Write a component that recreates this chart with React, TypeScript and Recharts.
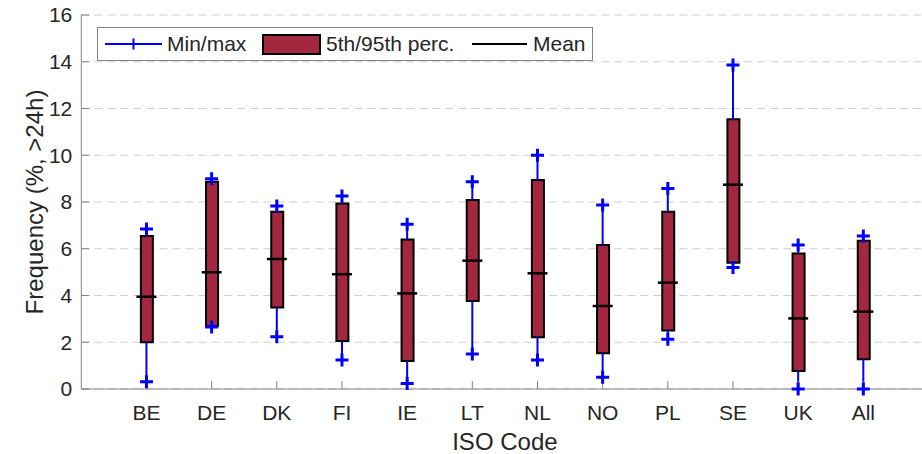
import { ComposedChart, Bar, Scatter, ErrorBar, XAxis, YAxis, CartesianGrid, Legend } from 'recharts'

const codes = ['BE', 'DE', 'DK', 'FI', 'IE', 'LT', 'NL', 'NO', 'PL', 'SE', 'UK', 'All']
const minVals = [0.31, 2.65, 2.24, 1.24, 0.24, 1.5, 1.24, 0.5, 2.13, 5.2, 0, 0]
const p5Vals = [2.0, 2.7, 3.49, 2.05, 1.2, 3.76, 2.21, 1.53, 2.5, 5.4, 0.77, 1.27]
const meanVals = [3.95, 4.99, 5.56, 4.91, 4.09, 5.49, 4.95, 3.55, 4.55, 8.74, 3.02, 3.31]
const p95Vals = [6.55, 8.87, 7.58, 7.94, 6.4, 8.09, 8.94, 6.16, 7.58, 11.54, 5.8, 6.34]
const maxVals = [6.84, 9.0, 7.83, 8.26, 7.05, 8.87, 10.0, 7.87, 8.58, 13.86, 6.16, 6.55]
const yTicks = [0, 2, 4, 6, 8, 10, 12, 14, 16]

const FONT = '"Liberation Sans", Arial, Helvetica, sans-serif'
const BLUE = '#0000ff'
const BOX = '#a3283f'
const TEXT = '#262626'
const AXIS = '#858585'

const data = codes.map((code, i) => ({
  x: i + 1,
  code,
  min: minVals[i],
  max: maxVals[i],
  mean: meanVals[i],
  p5: p5Vals[i],
  p95: p95Vals[i],
  box: [p5Vals[i], p95Vals[i]],
  lowErr: [p5Vals[i] - minVals[i], 0],
  highErr: [0, maxVals[i] - p95Vals[i]],
}))
const xTicks = data.map((d) => d.x)

const Plus = (props: any) => {
  const { cx, cy } = props
  return <path d={`M${cx - 6.5},${cy}h13M${cx},${cy - 6.5}v13`} stroke={BLUE} strokeWidth={3} fill="none" />
}

const MeanMark = (props: any) => {
  const { cx, cy } = props
  return <line x1={cx - 10} x2={cx + 10} y1={cy} y2={cy} stroke="#000" strokeWidth={2.5} />
}

const Empty = () => <g />

function LegendBox() {
  return (
    <div
      style={{
        display: 'flex', alignItems: 'center', boxSizing: 'border-box',
        width: 496, height: 34, paddingLeft: 7, border: `1px solid ${AXIS}`,
        background: '#fff', fontFamily: FONT, fontSize: 21, color: TEXT,
      }}
    >
      <div style={{ width: 157, display: 'flex', alignItems: 'center' }}>
        <svg width={57} height={20} style={{ marginRight: 5 }}>
          <line x1={0} x2={57} y1={10} y2={10} stroke={BLUE} strokeWidth={2} />
          <path d="M28.5,4.5v11" stroke={BLUE} strokeWidth={2} />
        </svg>
        <span>Min/max</span>
      </div>
      <div style={{ width: 210, display: 'flex', alignItems: 'center' }}>
        <svg width={59} height={21} style={{ marginRight: 5 }}>
          <rect x={1} y={1} width={57} height={19} fill={BOX} stroke="#000" strokeWidth={2} />
        </svg>
        <span>5th/95th perc.</span>
      </div>
      <div style={{ display: 'flex', alignItems: 'center' }}>
        <svg width={55} height={20} style={{ marginRight: 6 }}>
          <line x1={0} x2={55} y1={10} y2={10} stroke="#000" strokeWidth={2} />
        </svg>
        <span>Mean</span>
      </div>
    </div>
  )
}

export default function App() {
  return (
    <div style={{ position: 'absolute', left: 0, top: 0, width: 922, height: 454, overflow: 'hidden', background: '#fff' }}>
      <ComposedChart
        width={940}
        height={454}
        data={data}
        margin={{ top: 15, right: 11.5, bottom: 0, left: 0 }}
      >
        <CartesianGrid vertical={false} stroke="#cfcfcf" strokeDasharray="8 5" />
        <XAxis
          dataKey="x"
          type="number"
          domain={[0, 13]}
          ticks={xTicks}
          allowDataOverflow
          tickFormatter={(v) => codes[v - 1]}
          height={65}
          stroke={AXIS}
          tickSize={-8}
          tickMargin={24}
          tick={{ fontSize: 21, fill: TEXT, fontFamily: FONT }}
          label={{ value: 'ISO Code', position: 'center', dy: 20, style: { fontSize: 24, fill: TEXT, fontFamily: FONT } }}
        />
        <XAxis
          xAxisId="top"
          orientation="top"
          type="number"
          domain={[0, 13]}
          ticks={xTicks}
          allowDataOverflow
          height={0}
          stroke={AXIS}
          tickSize={-8}
          tick={false}
        />
        <YAxis
          type="number"
          domain={[0, 16]}
          ticks={yTicks}
          width={81.3}
          stroke={AXIS}
          tickSize={-8}
          tickMargin={17}
          tick={{ fontSize: 21, fill: TEXT, fontFamily: FONT }}
          label={{ value: 'Frequency (%, >24h)', angle: -90, position: 'center', dx: -6, style: { fontSize: 24, fill: TEXT, fontFamily: FONT, textAnchor: 'middle' } }}
        />
        <Scatter dataKey="p5" shape={Empty} isAnimationActive={false} legendType="none">
          <ErrorBar dataKey="lowErr" direction="y" width={0} stroke={BLUE} strokeWidth={2} isAnimationActive={false} />
        </Scatter>
        <Scatter dataKey="p95" shape={Empty} isAnimationActive={false} legendType="none">
          <ErrorBar dataKey="highErr" direction="y" width={0} stroke={BLUE} strokeWidth={2} isAnimationActive={false} />
        </Scatter>
        <Bar dataKey="box" barSize={12} fill={BOX} stroke="#000" strokeWidth={2} isAnimationActive={false} />
        <Scatter dataKey="min" shape={Plus} isAnimationActive={false} />
        <Scatter dataKey="max" shape={Plus} isAnimationActive={false} />
        <Scatter dataKey="mean" shape={MeanMark} isAnimationActive={false} />
        <Legend
          layout="vertical"
          align="center"
          verticalAlign="middle"
          wrapperStyle={{ top: 27, left: 97, width: 496 }}
          content={() => <LegendBox />}
        />
      </ComposedChart>
    </div>
  )
}
